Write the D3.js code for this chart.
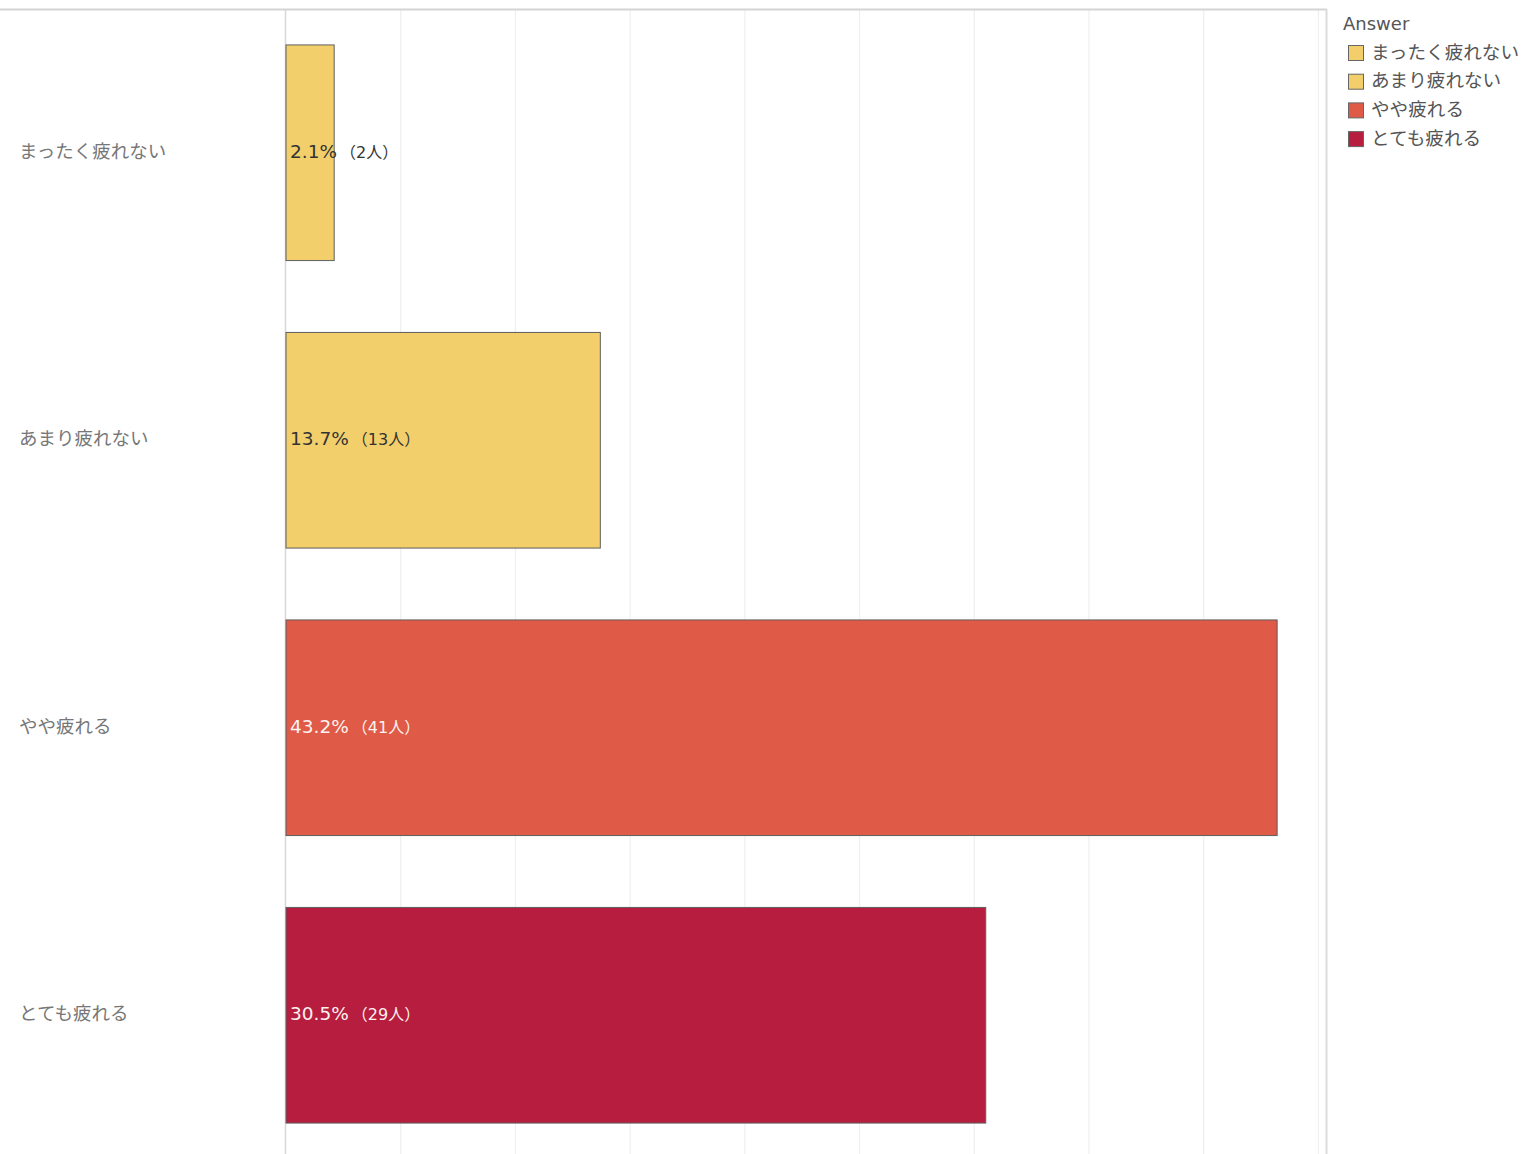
<!DOCTYPE html>
<html><head><meta charset="utf-8">
<script src="https://cdn.jsdelivr.net/npm/d3@7"></script>
<style>body{margin:0;background:#fff;} text{font-family:"DejaVu Sans","Noto Sans CJK JP",sans-serif;}</style>
</head><body><svg id="c" width="1522" height="1154"></svg>
<script>
const categories = ["まったく疲れない","あまり疲れない","やや疲れる","とても疲れる"];
const percents = [2.1, 13.7, 43.2, 30.5];
const counts = [2, 13, 41, 29];
const colors = ["#F2CF6B","#F2CF6B","#E05A48","#B71D3E"];
const labelColors = ["#333333","#333333","#fbf3ef","#fbf3ef"];
const ticks = [0,5,10,15,20,25,30,35,40,45];
const legendTitle = "Answer";

const svg = d3.select("#c");
const x = d3.scaleLinear().domain([0, 45.33]).range([286, 1326]);
const y = d3.scaleBand().domain(categories).range([9, 1159]).paddingInner(0.25).paddingOuter(0.125);

// gridlines
svg.append("g").selectAll("line").data(ticks.slice(1)).join("line")
  .attr("x1", d=>x(d)).attr("x2", d=>x(d)).attr("y1", 10).attr("y2", 1154)
  .attr("stroke", "#efefef").attr("stroke-width", 1.2);
// top border
svg.append("line").attr("x1",0).attr("x2",1327).attr("y1",9.5).attr("y2",9.5).attr("stroke","#d4d4d4").attr("stroke-width",2);
// right border
svg.append("line").attr("x1",1326.5).attr("x2",1326.5).attr("y1",9).attr("y2",1154).attr("stroke","#dcdcdc").attr("stroke-width",2);
// left axis line
svg.append("line").attr("x1",285.5).attr("x2",285.5).attr("y1",10).attr("y2",1154).attr("stroke","#d8d8d8").attr("stroke-width",1.5);

const data = categories.map((c,i)=>({c, p:percents[i], n:counts[i], col:colors[i], lc:labelColors[i]}));

svg.append("g").selectAll("rect").data(data).join("rect")
  .attr("x", x(0)).attr("y", d=>y(d.c)).attr("width", d=>x(d.p)-x(0)).attr("height", y.bandwidth())
  .attr("fill", d=>d.col).attr("stroke","#5e5e5e").attr("stroke-width",1);

// value labels
const vl = svg.append("g").selectAll("text").data(data).join("text")
  .attr("x", 290).attr("y", d=>y(d.c)+y.bandwidth()/2).attr("dy","0.28em")
  .attr("fill", d=>d.lc).attr("font-size", 18.5);
vl.append("tspan").text(d=>d.p.toFixed(1)+"%");
vl.append("tspan").attr("font-size",16).attr("dx",3).text(d=>"（"+d.n+"人）");

// category axis labels
svg.append("g").selectAll("text").data(categories).join("text")
  .attr("x", 19).attr("y", d=>y(d)+y.bandwidth()/2).attr("dy","0.28em")
  .attr("fill","#777").attr("font-size",18.5).text(d=>d);

// legend
const lg = svg.append("g");
lg.append("text").attr("x",1343).attr("y",24).attr("dy","0.35em").attr("fill","#555").attr("font-size",18).text(legendTitle);
const li = lg.selectAll("g.li").data(data).join("g").attr("class","li")
  .attr("transform",(d,i)=>`translate(1348,${45+i*28.7})`);
li.append("rect").attr("x",0.5).attr("y",0.5).attr("width",15).attr("height",15).attr("fill",d=>d.col).attr("stroke","#666").attr("stroke-width",1);
li.append("text").attr("x",23).attr("y",8).attr("dy","0.3em").attr("fill","#555").attr("font-size",18.6).text(d=>d.c);
</script></body></html>
